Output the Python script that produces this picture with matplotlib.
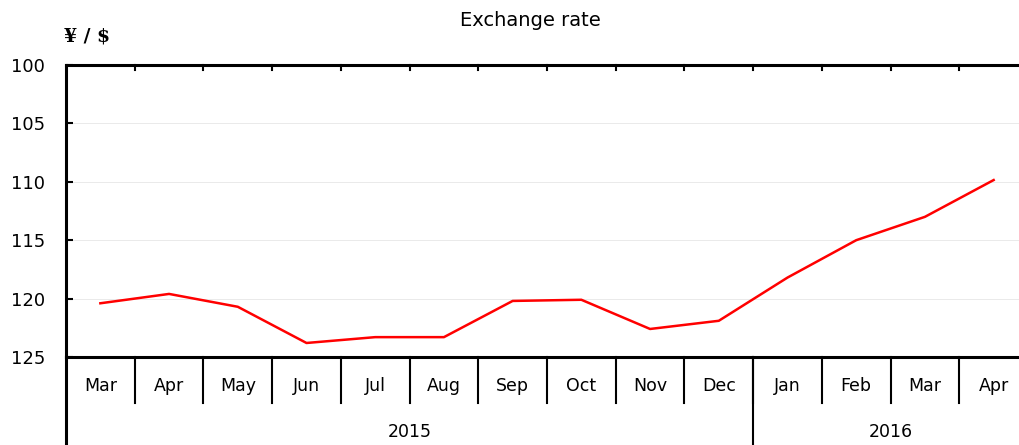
import matplotlib
matplotlib.use("Agg")
from matplotlib import pyplot as plt

months = ["Mar", "Apr", "May", "Jun", "Jul", "Aug", "Sep", "Oct",
          "Nov", "Dec", "Jan", "Feb", "Mar", "Apr"]
years = ["2015", "2016"]
months_per_year = [10, 4]
rate = [120.4, 119.6, 120.7, 123.8, 123.3, 123.3, 120.2, 120.1,
        122.6, 121.9, 118.2, 115.0, 113.0, 109.85]

plt.rcParams['font.family'] = ['DejaVu Sans']

fig = plt.figure(figsize=(10.19, 4.45), dpi=100)
W, H = 1019, 445
left, top, bottom, right = 66, 65, 357, 1028
ax = fig.add_axes([left / W, 1 - bottom / H, (right - left) / W, (bottom - top) / H])

x = list(range(len(months)))
ax.plot(x, rate, color='red', lw=1.8)

ax.set_xlim(-0.5, len(months) - 0.5)
ax.set_ylim(125, 100)
ax.set_yticks([100, 105, 110, 115, 120, 125])
ax.tick_params(axis='y', direction='in', length=5, width=1.5, labelsize=13, pad=15)
ax.grid(axis='y', color='#e6e6e6', lw=0.6)
ax.set_xticks([])

for s in ['top', 'left', 'bottom']:
    ax.spines[s].set_linewidth(2.2)
ax.spines['right'].set_visible(False)

# category axis: month row and year row
ph = bottom - top
trans = ax.get_xaxis_transform()
for i in range(1, len(months)):
    ax.plot([i - 0.5, i - 0.5], [1, 1 - 5 / ph], color='black', lw=1.5,
            transform=trans, clip_on=False)
    ax.plot([i - 0.5, i - 0.5], [0, -46 / ph], color='black', lw=1.5,
            transform=trans, clip_on=False)
for i, m in enumerate(months):
    ax.text(i, -29 / ph, m, transform=trans, ha='center', va='center', fontsize=12.5)

ax.plot([-0.5, -0.5], [0, -(H - bottom) / ph], color='black', lw=2.2,
        transform=trans, clip_on=False)
start = -0.5
for y, n in zip(years, months_per_year):
    end = start + n
    if end < len(months) - 0.5:
        ax.plot([end, end], [0, -(H - bottom) / ph], color='black', lw=1.5,
                transform=trans, clip_on=False)
    ax.text((start + end) / 2, -75 / ph, y, transform=trans, ha='center',
            va='center', fontsize=12.5)
    start = end

fig.text(530 / W, 1 - 20 / H, "Exchange rate", ha='center', va='center', fontsize=14)
fig.text(64 / W, 1 - 37 / H, "¥ / $", ha='left', va='center', fontsize=13.5,
         fontweight='bold', family='DejaVu Serif')

fig.savefig("out.png", dpi=100)
